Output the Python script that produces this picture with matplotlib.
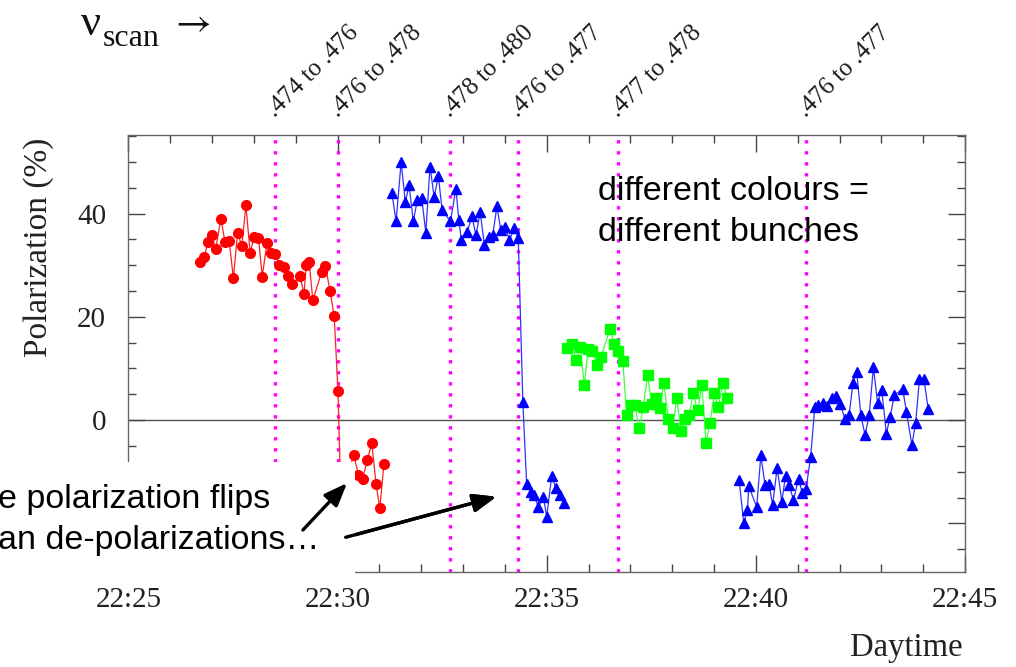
import matplotlib
matplotlib.use("Agg")
import matplotlib.pyplot as plt
from matplotlib.patches import Rectangle
from matplotlib.ticker import MultipleLocator, FixedLocator, FuncFormatter

# time = minutes after 22:00, polarization in %

# bunch A (red circles)
red_t = [26.71, 26.81, 26.91, 26.99, 27.09, 27.21, 27.31, 27.41, 27.51, 27.61,
         27.71, 27.81, 27.91, 28.01, 28.11, 28.20, 28.31, 28.42, 28.51, 28.61,
         28.71, 28.82, 28.92, 29.10, 29.20, 29.25, 29.32, 29.41, 29.62, 29.71,
         29.82, 29.92, 30.01, 30.07, 30.28, 30.39, 30.50, 30.60, 30.71, 30.82,
         30.92, 31.01, 31.11]
red_p = [30.6, 31.6, 34.5, 35.8, 33.2, 39.0, 34.5, 34.6, 27.5, 36.3,
         33.7, 41.6, 32.4, 35.5, 35.2, 27.8, 34.2, 32.4, 32.2, 30.0,
         29.6, 27.9, 26.3, 27.9, 24.4, 30.0, 30.6, 23.2, 28.7, 29.9,
         25.0, 20.2, 5.6, -12.0, -9.5, -6.8, -10.6, -11.4, -7.7, -4.5,
         -12.4, -17.1, -8.4]

# bunch B, first part (blue triangles)
blue1_t = [31.30, 31.40, 31.52, 31.62, 31.71, 31.81, 31.91, 32.01, 32.11, 32.21,
           32.31, 32.41, 32.50, 32.70, 32.83, 32.90, 32.96, 33.10, 33.21, 33.31,
           33.41, 33.51, 33.62, 33.71, 33.81, 33.90, 34.01, 34.11, 34.22, 34.32,
           34.43, 34.52, 34.62, 34.70, 34.80, 34.92, 35.00, 35.12, 35.22, 35.32,
           35.41]
blue1_p = [43.9, 38.5, 50.0, 42.2, 45.5, 38.5, 42.7, 43.1, 36.3, 49.1,
           43.2, 47.3, 40.6, 38.5, 44.8, 38.7, 34.8, 36.4, 39.5, 35.8,
           40.3, 33.9, 35.5, 35.8, 41.4, 36.9, 37.4, 34.8, 37.1, 35.2,
           3.5, -12.3, -13.9, -14.5, -16.8, -14.8, -18.7, -10.8, -13.2, -14.5,
           -16.1]

# bunch C (green squares)
green_t = [35.48, 35.60, 35.70, 35.80, 35.90, 35.99, 36.09, 36.20, 36.30, 36.51,
           36.62, 36.71, 36.82, 36.91, 37.02, 37.11, 37.21, 37.31, 37.41, 37.51,
           37.61, 37.71, 37.80, 37.91, 38.01, 38.11, 38.21, 38.31, 38.41, 38.50,
           38.61, 38.71, 38.81, 38.90, 39.01, 39.10, 39.21, 39.32]
green_p = [14.0, 14.8, 11.7, 14.2, 6.8, 13.7, 13.3, 10.6, 12.3, 17.6,
           14.8, 13.4, 11.4, 1.0, 2.9, 2.9, -1.6, 2.6, 8.7, 3.2,
           4.2, 2.3, 7.1, 0.3, -1.6, 4.2, -2.1, 0.3, 1.0, 5.2,
           1.9, 6.8, -4.4, -0.6, 5.2, 2.5, 7.2, 4.3]

# bunch B, second part (blue triangles)
blue2_t = [39.60, 39.71, 39.80, 39.83, 40.02, 40.12, 40.22, 40.32, 40.40, 40.51,
           40.62, 40.71, 40.80, 40.90, 41.02, 41.11, 41.20, 41.31, 41.41, 41.49,
           41.60, 41.71, 41.81, 41.92, 42.01, 42.13, 42.23, 42.32, 42.41, 42.51,
           42.61, 42.71, 42.81, 42.91, 43.01, 43.12, 43.21, 43.31, 43.51, 43.60,
           43.73, 43.82, 43.91, 44.02, 44.12]
blue2_p = [-11.6, -19.9, -17.4, -12.8, -16.8, -6.8, -12.6, -12.4, -16.5, -9.2,
           -15.8, -10.8, -12.6, -15.5, -11.3, -14.1, -13.3, -7.1, 2.6, 2.9,
           3.4, 2.8, 4.2, 4.6, 3.2, 0.3, 1.0, 7.1, 9.4, 1.0,
           -2.9, 1.0, 10.2, 3.4, 5.8, -2.6, 0.6, 4.8, 6.1, 1.6,
           -4.8, -0.6, 7.9, 7.9, 2.1]

# tune scan changes
scan_t = [28.51, 30.00, 32.70, 34.31, 36.71, 41.20]
scan_labels = [".474 to .476", ".476 to .478", ".478 to .480",
               ".476 to .477", ".477 to .478", ".476 to .477"]

W, H = 1016, 667


def fx(x):
    return x / W


def fy(y):
    return 1 - y / H


plt.rcParams["mathtext.fontset"] = "stix"
serif = ["Liberation Serif", "DejaVu Serif"]
sans = ["Liberation Sans", "DejaVu Sans"]

fig = plt.figure(figsize=(W / 100, H / 100), dpi=100)
ax = fig.add_axes([fx(128.4), fy(572), fx(836.6), 437 / H])

ax.axhline(0, color="#555555", lw=1, zorder=1)

for t in scan_t:
    ax.axvline(t, color="#ff00ff", lw=2.4, linestyle=(0, (1, 2.3)), zorder=2)

ax.plot(red_t, red_p, color="#ff2020", lw=0.9, marker="o", ms=7,
        mfc="#ff0000", mec="#ff0000", zorder=3)
ax.plot(blue1_t, blue1_p, color="#3030ff", lw=0.9, marker="^", ms=7.5,
        mfc="#0000ff", mec="#0000ff", zorder=3)
ax.plot(green_t, green_p, color="#40ff40", lw=0.9, marker="s", ms=7.5,
        mfc="#00ff00", mec="#00ff00", zorder=3)
ax.plot(blue2_t, blue2_p, color="#3030ff", lw=0.9, marker="^", ms=7.5,
        mfc="#0000ff", mec="#0000ff", zorder=3)

ax.set_xlim(25, 45)
ax.set_ylim(-29.4, 55.2)

ax.xaxis.set_major_locator(FixedLocator([25, 30, 35, 40, 45]))
ax.xaxis.set_minor_locator(MultipleLocator(1))
ax.xaxis.set_major_formatter(FuncFormatter(lambda v, pos: "22:%02d" % int(round(v))))
ax.yaxis.set_major_locator(MultipleLocator(20))
ax.yaxis.set_minor_locator(MultipleLocator(5))
# the -20 label sits under the annotation box in the slide
ax.yaxis.set_major_formatter(FuncFormatter(lambda v, pos: "%d" % v if v >= 0 else ""))

ax.tick_params(which="both", direction="in", top=True, right=True,
               color="#444444", width=1)
ax.tick_params(which="major", length=12)
ax.tick_params(which="minor", length=6)
ax.tick_params(axis="x", which="major", pad=11, labelsize=21, labelcolor="#222222")
ax.tick_params(axis="y", which="major", pad=16, labelsize=21, labelcolor="#222222")
for lab in ax.get_xticklabels() + ax.get_yticklabels():
    lab.set_family(serif)

for s in ax.spines.values():
    s.set_color("#666666")
    s.set_linewidth(1)

ax.set_ylabel("Polarization (%)", family=serif, fontsize=24, color="#222222", va="center")
ax.yaxis.set_label_coords(-0.107, 0.744)
ax.set_xlabel("Daytime", family=serif, fontsize=23.5, color="#222222", va="center")
ax.xaxis.set_label_coords(0.93, -0.174)

# rotated scan labels above the axes
for t, lab in zip(scan_t, scan_labels):
    ax.text(t, 1.039, lab, transform=ax.get_xaxis_transform(), rotation=45,
            rotation_mode="anchor", ha="left", va="baseline",
            family=serif, fontsize=18, color="#1a1a1a")

# nu_scan arrow
fig.text(fx(81), fy(35), "\u03bd", family=serif, fontsize=32, va="baseline", color="#111111")
fig.text(fx(103), fy(46), "scan", family=serif, fontsize=23, va="baseline", color="#111111")
fig.text(fx(170), fy(21), r"$\rightarrow$", fontsize=28, va="center", color="#111111")

# white box of the slide annotation
fig.patches.append(Rectangle((0, fy(577)), fx(355), (577 - 462) / H,
                             transform=fig.transFigure, facecolor="white",
                             edgecolor="none", zorder=5))

# va="baseline" on multi-line text anchors the last line
fig.text(fx(-2), fy(549), "e polarization flips\nan de-polarizations\u2026",
         family=sans, fontsize=24.5, va="baseline", ha="left", linespacing=1.43,
         color="black", zorder=6)

fig.text(fx(598), fy(241), "different colours =\ndifferent bunches",
         family=sans, fontsize=24.5, va="baseline", ha="left", linespacing=1.43,
         color="black", zorder=6)

arrow = dict(arrowstyle="-|>,head_length=1.4,head_width=0.55", color="black", lw=2.4)
fig.add_artist(plt.annotate("", xy=(fx(349), fy(481)), xytext=(fx(301), fy(532)),
                            xycoords="figure fraction", arrowprops=arrow, zorder=6))
fig.add_artist(plt.annotate("", xy=(fx(499), fy(496)), xytext=(fx(343), fy(538)),
                            xycoords="figure fraction", arrowprops=arrow, zorder=6))

fig.savefig("out.png", dpi=100)
